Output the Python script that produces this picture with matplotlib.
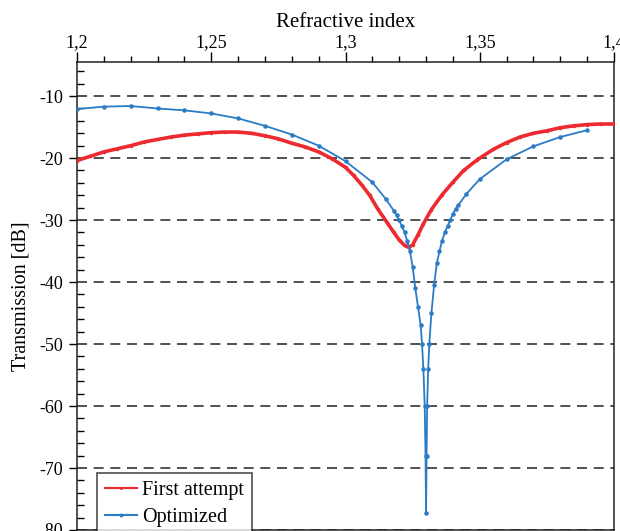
import matplotlib
matplotlib.use('Agg')
import matplotlib.pyplot as plt
from matplotlib.ticker import MultipleLocator

plt.rcParams['font.family'] = ['Liberation Serif', 'DejaVu Serif']
plt.rcParams['axes.unicode_minus'] = False

# First attempt (red)
first_n = [1.200, 1.205, 1.210, 1.215, 1.220, 1.225, 1.230, 1.235, 1.240, 1.245,
           1.250, 1.255, 1.260, 1.265, 1.270, 1.275, 1.280, 1.285, 1.290, 1.295,
           1.300, 1.303, 1.306, 1.309, 1.312, 1.315, 1.318, 1.320, 1.322, 1.3235,
           1.325, 1.327, 1.329, 1.332, 1.336, 1.340, 1.344, 1.349, 1.355, 1.360,
           1.365, 1.370, 1.375, 1.380, 1.385, 1.390, 1.395, 1.400]
first_db = [-20.4, -19.7, -19.0, -18.5, -18.0, -17.4, -17.0, -16.6, -16.3, -16.1,
            -15.9, -15.8, -15.8, -16.0, -16.4, -16.9, -17.6, -18.2, -19.0, -20.1,
            -21.5, -22.8, -24.3, -26.0, -28.2, -30.1, -32.0, -33.2, -34.1, -34.4,
            -34.0, -32.4, -30.6, -28.3, -25.9, -23.9, -22.0, -20.3, -18.6, -17.5,
            -16.6, -16.0, -15.6, -15.1, -14.8, -14.6, -14.5, -14.5]

# Optimized (blue)
opt_n = [1.20, 1.21, 1.22, 1.23, 1.24, 1.25, 1.26, 1.27, 1.28, 1.29,
         1.30, 1.31, 1.315, 1.318, 1.319, 1.320, 1.321, 1.322, 1.323, 1.324,
         1.325, 1.326, 1.327, 1.328, 1.3285, 1.329, 1.3295, 1.3298, 1.3300, 1.3302,
         1.3304, 1.3308, 1.3312, 1.332, 1.333, 1.334, 1.335, 1.336, 1.337, 1.338,
         1.339, 1.340, 1.341, 1.342, 1.345, 1.35, 1.36, 1.37, 1.38, 1.39]
opt_db = [-12.1, -11.7, -11.6, -12.0, -12.3, -12.8, -13.6, -14.8, -16.2, -18.0,
          -20.5, -23.9, -26.6, -28.5, -29.2, -30.0, -31.0, -32.0, -33.4, -35.0,
          -37.5, -41.0, -44.0, -47.0, -50.0, -54.0, -60.0, -68.0, -77.3, -68.0,
          -60.0, -54.0, -50.0, -45.0, -40.5, -37.0, -35.0, -33.3, -32.0, -31.0,
          -30.0, -29.0, -28.2, -27.6, -25.8, -23.4, -20.2, -18.1, -16.6, -15.5]

x_ticks = [1.2, 1.25, 1.3, 1.35, 1.4]
x_tick_labels = ['1,2', '1,25', '1,3', '1,35', '1,4']
y_ticks = [-10, -20, -30, -40, -50, -60, -70, -80]

fig = plt.figure(figsize=(6.2, 5.31), dpi=100)
ax = fig.add_axes([77 / 620, 1 - 530 / 531, 537 / 620, 468 / 531])

for y in y_ticks:
    ax.axhline(y, color='#333333', lw=1.2, ls=(0, (6, 4)), zorder=1)

ax.plot(first_n, first_db, color='#ec2a30', lw=2.6, marker='.', ms=3,
        label='First attempt', zorder=3)
ax.plot(opt_n, opt_db, color='#2a7cc6', lw=1.3, marker='.', ms=4.5,
        label='Optimized', zorder=4)

ax.set_xlim(1.2, 1.4)
ax.set_ylim(-80, -4.5)
ax.xaxis.tick_top()
ax.xaxis.set_label_position('top')
ax.set_xticks(x_ticks)
ax.set_xticklabels(x_tick_labels)
ax.xaxis.set_minor_locator(MultipleLocator(0.01))
ax.set_yticks(y_ticks)
ax.yaxis.set_minor_locator(MultipleLocator(2))
ax.tick_params(axis='x', which='major', direction='out', length=7, width=1, labelsize=13, pad=1)
ax.tick_params(axis='x', which='minor', direction='out', length=4, width=1)
ax.tick_params(axis='y', which='major', direction='out', length=6, width=1, labelsize=13, pad=4)
ax.tick_params(axis='y', which='minor', direction='in', length=5, width=1)
for s in ax.spines.values():
    s.set_linewidth(1.1)
    s.set_color('#222222')

ax.set_xlabel('Refractive index', fontsize=15, labelpad=5)
ax.set_ylabel('Transmission [dB]', fontsize=14.5, labelpad=6)

leg = ax.legend(loc='upper left', bbox_to_anchor=(0.037, 0.122), fontsize=14.5,
                frameon=True, fancybox=False, edgecolor='#222222',
                handlelength=1.6, handletextpad=0.25, borderpad=0.4,
                borderaxespad=0, labelspacing=0.4, markerscale=0.8)
leg.get_frame().set_linewidth(1.2)
for h in leg.get_lines():
    h.set_linewidth(1.5)

fig.savefig('out.png', dpi=100)
